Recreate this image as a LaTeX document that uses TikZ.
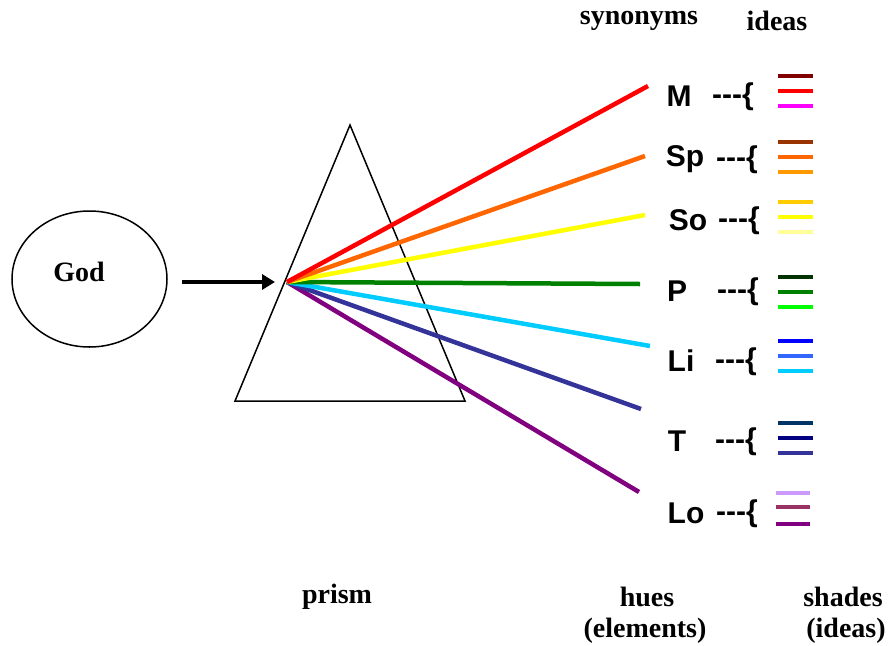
\documentclass[tikz,border=0pt]{standalone}
\usepackage{fontspec}
\setmainfont{Liberation Serif}
\setsansfont[Ligatures=NoCommon]{Liberation Sans}
\usetikzlibrary{arrows.meta,shapes.geometric}
\definecolor{cM1}{HTML}{800000}\definecolor{cM2}{HTML}{FF0000}\definecolor{cM3}{HTML}{FF00FF}
\definecolor{cS1}{HTML}{993300}\definecolor{cS2}{HTML}{FF6600}\definecolor{cS3}{HTML}{FF9900}
\definecolor{cO1}{HTML}{FFCC00}\definecolor{cO2}{HTML}{FFFF00}\definecolor{cO3}{HTML}{FFFF99}
\definecolor{cP1}{HTML}{003300}\definecolor{cP2}{HTML}{008000}\definecolor{cP3}{HTML}{00FF00}
\definecolor{cL1}{HTML}{0000FF}\definecolor{cL2}{HTML}{3366FF}\definecolor{cL3}{HTML}{00CCFF}
\definecolor{cT1}{HTML}{003366}\definecolor{cT2}{HTML}{000080}\definecolor{cT3}{HTML}{333399}
\definecolor{cV1}{HTML}{CC99FF}\definecolor{cV2}{HTML}{993366}\definecolor{cV3}{HTML}{800080}
\newcommand{\brc}{{-}{-}{-}\{}
\begin{document}
\begin{tikzpicture}[x=1pt,y=-1pt,
  serifbold/.style={font=\fontsize{28}{30}\selectfont\bfseries, inner sep=0pt},
  hue/.style={font=\fontsize{30}{32}\selectfont\sffamily\bfseries, inner sep=0pt},
  ray/.style={line width=4.5pt},
  shade/.style={line width=3.5pt},
]
\useasboundingbox (0,0) rectangle (888,645);
% God
\node[draw, line width=1.5pt, ellipse, minimum width=155pt, minimum height=136pt, inner sep=0pt] (god) at (89.5,279) {};
\node[serifbold] (godtxt) at (79,272) {God};
% arrow
\coordinate (src) at (287,282);
\coordinate (arrs) at (182,282);
\coordinate (arre) at (275,282);
\draw[line width=3.2pt, -{Triangle[length=13pt,width=15pt]}] (arrs) -- (arre);
% prism
\coordinate (apex) at (350,125);
\coordinate (bl) at (235,401);
\coordinate (br) at (465,401);
\draw[line width=1.5pt] (apex) -- (bl) -- (br) -- cycle;
% rays
\coordinate (eM) at (648,86);
\coordinate (eS) at (645,156);
\coordinate (eO) at (645,215);
\coordinate (eP) at (640,284);
\coordinate (eL) at (650,346);
\coordinate (eT) at (641,409);
\coordinate (eV) at (639,492);
\draw[ray, cV3] (src) -- (eV);
\draw[ray, cT3] (src) -- (eT);
\draw[ray, cL3] (src) -- (eL);
\draw[ray, cP2] (src) -- (eP);
\draw[ray, cO2] (src) -- (eO);
\draw[ray, cS2] (src) -- (eS);
\draw[ray, cM2] (src) -- (eM);
% hue labels
\node[hue] (lM) at (679,96) {M};
\node[hue] (lS) at (685,159) {Sp};
\node[hue] (lO) at (688,220) {So};
\node[hue] (lP) at (677,291) {P};
\node[hue] (lL) at (681,361) {Li};
\node[hue] (lT) at (677,441) {T};
\node[hue] (lV) at (686,513) {Lo};
\node[hue] (bM) at (733,97) {\brc};
\node[hue] (bS) at (737,160) {\brc};
\node[hue] (bO) at (739,221) {\brc};
\node[hue] (bP) at (738,292) {\brc};
\node[hue] (bL) at (736,362) {\brc};
\node[hue] (bT) at (736,442) {\brc};
\node[hue] (bV) at (737,514) {\brc};
% shades
\foreach \y/\c in {76/cM1,91/cM2,106/cM3,142/cS1,157/cS2,172/cS3,202/cO1,217/cO2,232/cO3,
                   277/cP1,292/cP2,307/cP3,341/cL1,356/cL2,371/cL3,423/cT1,438/cT2,453/cT3}
  \draw[shade, \c] (778,\y) -- (813,\y);
\draw[shade, cV1] (776,493) -- (810,493);
\draw[shade, cV2] (776,507) -- (810,507);
\draw[shade, cV3] (776,524) -- (810,524);
% captions
\node[serifbold] (syn) at (639,21) {synonyms};
\node[serifbold] (ide) at (777,21) {ideas};
\node[serifbold] (pri) at (337,597) {prism};
\node[serifbold] (hue1) at (647,597) {hues};
\node[serifbold] (hue2) at (645,631) {(elements)};
\node[serifbold] (sha1) at (843,597) {shades};
\node[serifbold] (sha2) at (846,631) {(ideas)};
\end{tikzpicture}
\end{document}
